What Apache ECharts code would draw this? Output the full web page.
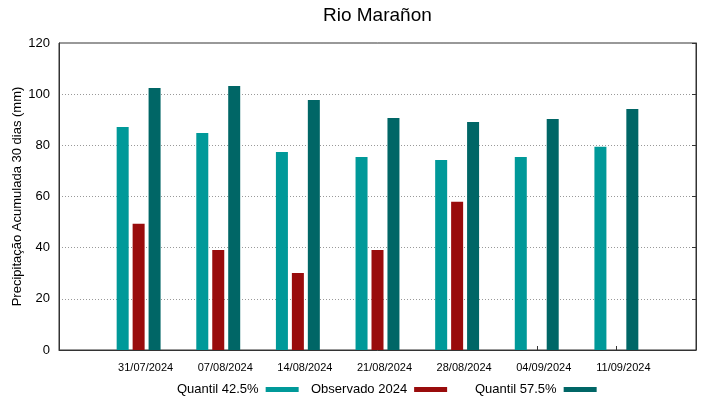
<!DOCTYPE html>
<html><head><meta charset="utf-8">
<script src="https://cdn.jsdelivr.net/npm/echarts@6/dist/echarts.min.js"></script>
<style>html,body{margin:0;padding:0;background:#fff}#c{width:719px;height:399px}</style>
</head><body><div id="c"></div>
<script>
const dates = ['31/07/2024','07/08/2024','14/08/2024','21/08/2024','28/08/2024','04/09/2024','11/09/2024'];
const q425 = [87.2, 84.8, 77.4, 75.4, 74.3, 75.4, 79.4];
const observado = [49.3, 39.1, 30.1, 39.1, 57.9, null, null];
const q575 = [102.4, 103.2, 97.7, 90.7, 89.1, 90.3, 94.2];
const yTicks = [0, 20, 40, 60, 80, 100, 120];
const seriesNames = ['Quantil 42.5%', 'Observado 2024', 'Quantil 57.5%'];

const cats = [''].concat(dates, ['']);
const pad = a => [null].concat(a, [null]);
const font = 'Liberation Sans, Arial, sans-serif';
const legendLeft = [172, 306, 470];
const chart = echarts.init(document.getElementById('c'), null, {renderer:'canvas'});
chart.setOption({
  animation:false,
  backgroundColor:'#fff',
  textStyle:{fontFamily:font},
  title:{text:'Rio Marañon', left:318, top:1, textStyle:{fontFamily:font, fontSize:19, fontWeight:'normal', color:'#000'}},
  grid:{left:59, right:23, top:43, bottom:49, show:true, borderColor:'#333', borderWidth:1, outerBoundsMode:'none', containLabel:false},
  legend: seriesNames.map((n, i) => ({
    top:378, left:legendLeft[i], align:'right', itemWidth:33, itemHeight:5, icon:'rect',
    textStyle:{fontFamily:font, fontSize:13, color:'#000', padding:[0,2,0,0]},
    data:[n]})),
  xAxis:{type:'category', data:cats, boundaryGap:false,
    axisLine:{lineStyle:{color:'#333'}},
    axisTick:{inside:true, length:4, lineStyle:{color:'#333'}},
    axisLabel:{interval:0, fontSize:11, color:'#000', margin:12, fontFamily:font, padding:[0,0,0,14]},
    splitLine:{show:false}},
  yAxis:[{type:'value', min:yTicks[0], max:yTicks[yTicks.length-1], interval:20,
    name:'Precipitação Acumulada 30 dias (mm)', nameLocation:'middle', nameGap:35, nameMoveOverlap:false,
    nameTextStyle:{fontSize:13, color:'#000', fontFamily:font},
    axisLine:{show:true, lineStyle:{color:'#333'}},
    axisTick:{show:false},
    axisLabel:{fontSize:13, color:'#000', margin:9, fontFamily:font},
    splitLine:{show:true, lineStyle:{color:'#999', type:[1,2], width:1}}},
   {type:'value', min:0, max:120, interval:20, position:'right',
    axisLine:{show:true, lineStyle:{color:'#333'}},
    axisTick:{show:true, inside:true, length:4, lineStyle:{color:'#333'}},
    axisLabel:{show:false}, splitLine:{show:false}}],
  series:[
    {name:seriesNames[0], type:'bar', data:pad(q425), barWidth:12, barGap:'33%', itemStyle:{color:'#009999'}},
    {name:seriesNames[1], type:'bar', data:pad(observado), barWidth:12, barGap:'33%', itemStyle:{color:'#990c0c'}},
    {name:seriesNames[2], type:'bar', data:pad(q575), barWidth:12, barGap:'33%', itemStyle:{color:'#006666'}}
  ]
});
</script></body></html>
